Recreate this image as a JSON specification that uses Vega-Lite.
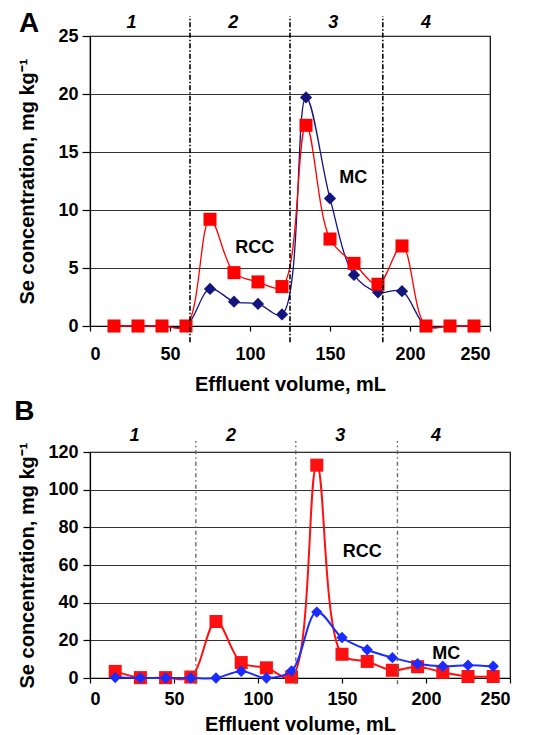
{
  "$schema": "https://vega.github.io/schema/vega-lite/v6.json",
  "background": "white",
  "padding": {"left": 13, "top": 9, "right": 10, "bottom": 0},
  "spacing": 2,
  "config": {
    "font": "Liberation Sans",
    "view": {"stroke": "black", "strokeWidth": 1.2},
    "axis": {
      "labelFont": "Liberation Sans", "labelFontWeight": "bold", "labelFontSize": 18, "labelColor": "black", "labelOverlap": false,
      "titleFont": "Liberation Sans", "titleFontWeight": "bold", "titleFontSize": 20, "titleColor": "black",
      "domainColor": "black", "tickColor": "black", "domainWidth": 1.2, "tickWidth": 1.2
    }
  },
  "datasets": {
    "a": [
      {"vol": 15, "series": "MC", "conc": 0}, {"vol": 30, "series": "MC", "conc": 0}, {"vol": 45, "series": "MC", "conc": 0}, {"vol": 60, "series": "MC", "conc": 0},
      {"vol": 75, "series": "MC", "conc": 3.2}, {"vol": 90, "series": "MC", "conc": 2.1}, {"vol": 105, "series": "MC", "conc": 1.9}, {"vol": 120, "series": "MC", "conc": 1.0},
      {"vol": 135, "series": "MC", "conc": 19.7}, {"vol": 150, "series": "MC", "conc": 11.0}, {"vol": 165, "series": "MC", "conc": 4.4}, {"vol": 180, "series": "MC", "conc": 2.9},
      {"vol": 195, "series": "MC", "conc": 3.0}, {"vol": 210, "series": "MC", "conc": 0}, {"vol": 225, "series": "MC", "conc": 0}, {"vol": 240, "series": "MC", "conc": 0},
      {"vol": 15, "series": "RCC", "conc": 0}, {"vol": 30, "series": "RCC", "conc": 0}, {"vol": 45, "series": "RCC", "conc": 0}, {"vol": 60, "series": "RCC", "conc": 0},
      {"vol": 75, "series": "RCC", "conc": 9.2}, {"vol": 90, "series": "RCC", "conc": 4.6}, {"vol": 105, "series": "RCC", "conc": 3.8}, {"vol": 120, "series": "RCC", "conc": 3.4},
      {"vol": 135, "series": "RCC", "conc": 17.3}, {"vol": 150, "series": "RCC", "conc": 7.5}, {"vol": 165, "series": "RCC", "conc": 5.4}, {"vol": 180, "series": "RCC", "conc": 3.6},
      {"vol": 195, "series": "RCC", "conc": 6.9}, {"vol": 210, "series": "RCC", "conc": 0}, {"vol": 225, "series": "RCC", "conc": 0}, {"vol": 240, "series": "RCC", "conc": 0}
    ],
    "b": [
      {"vol": 15, "series": "MC", "conc": 0.2}, {"vol": 30, "series": "MC", "conc": 0}, {"vol": 45, "series": "MC", "conc": 0}, {"vol": 60, "series": "MC", "conc": 0},
      {"vol": 75, "series": "MC", "conc": 0}, {"vol": 90, "series": "MC", "conc": 3.6}, {"vol": 105, "series": "MC", "conc": 0}, {"vol": 120, "series": "MC", "conc": 3.8},
      {"vol": 135, "series": "MC", "conc": 35}, {"vol": 150, "series": "MC", "conc": 21.5}, {"vol": 165, "series": "MC", "conc": 15}, {"vol": 180, "series": "MC", "conc": 10.8},
      {"vol": 195, "series": "MC", "conc": 7.6}, {"vol": 210, "series": "MC", "conc": 6.2}, {"vol": 225, "series": "MC", "conc": 6.8}, {"vol": 240, "series": "MC", "conc": 6.2},
      {"vol": 15, "series": "RCC", "conc": 3.5}, {"vol": 30, "series": "RCC", "conc": 0.2}, {"vol": 45, "series": "RCC", "conc": 0.2}, {"vol": 60, "series": "RCC", "conc": 0.5},
      {"vol": 75, "series": "RCC", "conc": 30}, {"vol": 90, "series": "RCC", "conc": 8.2}, {"vol": 105, "series": "RCC", "conc": 5.4}, {"vol": 120, "series": "RCC", "conc": 0.5},
      {"vol": 135, "series": "RCC", "conc": 113}, {"vol": 150, "series": "RCC", "conc": 12.6}, {"vol": 165, "series": "RCC", "conc": 8.8}, {"vol": 180, "series": "RCC", "conc": 4.1},
      {"vol": 195, "series": "RCC", "conc": 6.0}, {"vol": 210, "series": "RCC", "conc": 3.0}, {"vol": 225, "series": "RCC", "conc": 0.8}, {"vol": 240, "series": "RCC", "conc": 0.8}
    ],
    "dividersA": [{"vol": 62.5}, {"vol": 125}, {"vol": 183}],
    "dividersB": [{"vol": 63}, {"vol": 122.5}, {"vol": 183}],
    "regionsA": [{"vol": 26, "label": "1"}, {"vol": 89.5, "label": "2"}, {"vol": 152, "label": "3"}, {"vol": 210, "label": "4"}],
    "regionsB": [{"vol": 26.5, "label": "1"}, {"vol": 84, "label": "2"}, {"vol": 149, "label": "3"}, {"vol": 206, "label": "4"}],
    "notesA": [{"vol": 103, "conc": 6.7, "label": "RCC"}, {"vol": 164.5, "conc": 12.8, "label": "MC"}],
    "notesB": [{"vol": 162, "conc": 67, "label": "RCC"}, {"vol": 212, "conc": 12.8, "label": "MC"}],
    "panelA": [{"label": "A"}],
    "panelB": [{"label": "B"}]
  },
  "vconcat": [
    {
      "width": 400,
      "height": 290,
      "layer": [
        {
          "data": {"name": "a"},
          "transform": [{"filter": "datum.series === 'MC'"}],
          "mark": {"type": "line", "interpolate": "catmull-rom", "color": "#14147f", "strokeWidth": 1.3},
          "encoding": {
            "x": {"field": "vol", "type": "quantitative", "scale": {"domain": [0, 250], "nice": false},
                  "axis": {"values": [0, 50, 100, 150, 200, 250], "tickCount": 12, "grid": false, "tickSize": 5, "labelPadding": 14, "title": "Effluent volume, mL", "titlePadding": 11}},
            "y": {"field": "conc", "type": "quantitative", "scale": {"domain": [0, 25], "nice": false},
                  "axis": {"values": [0, 5, 10, 15, 20, 25], "tickCount": 12, "grid": true, "gridColor": "#333333", "gridWidth": 1.2, "tickSize": 8, "labelPadding": 4, "title": "Se concentration, mg kg⁻¹", "titlePadding": 20}}
          }
        },
        {
          "data": {"name": "a"},
          "transform": [{"filter": "datum.series === 'MC'"}],
          "mark": {"type": "point", "shape": "diamond", "filled": true, "size": 150, "color": "#14147f", "opacity": 1},
          "encoding": {"x": {"field": "vol", "type": "quantitative"}, "y": {"field": "conc", "type": "quantitative"}}
        },
        {
          "data": {"name": "a"},
          "transform": [{"filter": "datum.series === 'RCC'"}],
          "mark": {"type": "line", "interpolate": "catmull-rom", "color": "#ff0000", "strokeWidth": 1.3},
          "encoding": {"x": {"field": "vol", "type": "quantitative"}, "y": {"field": "conc", "type": "quantitative"}}
        },
        {
          "data": {"name": "a"},
          "transform": [{"filter": "datum.series === 'RCC'"}],
          "mark": {"type": "point", "shape": "square", "filled": true, "size": 170, "color": "#ff0000", "opacity": 1},
          "encoding": {"x": {"field": "vol", "type": "quantitative"}, "y": {"field": "conc", "type": "quantitative"}}
        },
        {
          "data": {"name": "dividersA"},
          "mark": {"type": "rule", "color": "black", "strokeWidth": 1.6, "strokeDash": [5, 2, 1.5, 2]},
          "encoding": {"x": {"field": "vol", "type": "quantitative"}, "y": {"datum": -1.4}, "y2": {"datum": 26.7}}
        },
        {
          "data": {"name": "regionsA"},
          "mark": {"type": "text", "font": "Liberation Sans", "fontSize": 18, "fontWeight": "bold", "fontStyle": "italic", "color": "black", "baseline": "middle"},
          "encoding": {"x": {"field": "vol", "type": "quantitative"}, "y": {"datum": 26.15}, "text": {"field": "label"}}
        },
        {
          "data": {"name": "notesA"},
          "mark": {"type": "text", "font": "Liberation Sans", "fontSize": 18, "fontWeight": "bold", "color": "black", "baseline": "middle"},
          "encoding": {"x": {"field": "vol", "type": "quantitative"}, "y": {"field": "conc", "type": "quantitative"}, "text": {"field": "label"}}
        },
        {
          "data": {"name": "panelA"},
          "mark": {"type": "text", "font": "Liberation Sans", "fontSize": 28, "fontWeight": "bold", "color": "black", "baseline": "middle"},
          "encoding": {"x": {"datum": -38}, "y": {"datum": 26.0}, "text": {"field": "label"}}
        }
      ]
    },
    {
      "width": 420,
      "height": 226,
      "layer": [
        {
          "data": {"name": "b"},
          "transform": [{"filter": "datum.series === 'RCC'"}],
          "mark": {"type": "line", "interpolate": "catmull-rom", "color": "#ff1010", "strokeWidth": 2},
          "encoding": {
            "x": {"field": "vol", "type": "quantitative", "scale": {"domain": [0, 250], "nice": false},
                  "axis": {"values": [0, 50, 100, 150, 200, 250], "tickCount": 12, "grid": false, "tickSize": 5, "labelPadding": 7, "title": "Effluent volume, mL", "titlePadding": 6}},
            "y": {"field": "conc", "type": "quantitative", "scale": {"domain": [0, 120], "nice": false},
                  "axis": {"values": [0, 20, 40, 60, 80, 100, 120], "tickCount": 12, "grid": true, "gridColor": "#333333", "gridWidth": 1.2, "tickSize": 7, "labelPadding": 5, "title": "Se concentration, mg kg⁻¹", "titlePadding": 10}}
          }
        },
        {
          "data": {"name": "b"},
          "transform": [{"filter": "datum.series === 'RCC'"}],
          "mark": {"type": "point", "shape": "square", "filled": true, "size": 170, "color": "#ff1010", "opacity": 1},
          "encoding": {"x": {"field": "vol", "type": "quantitative"}, "y": {"field": "conc", "type": "quantitative"}}
        },
        {
          "data": {"name": "b"},
          "transform": [{"filter": "datum.series === 'MC'"}],
          "mark": {"type": "line", "interpolate": "catmull-rom", "color": "#1a2cff", "strokeWidth": 2},
          "encoding": {"x": {"field": "vol", "type": "quantitative"}, "y": {"field": "conc", "type": "quantitative"}}
        },
        {
          "data": {"name": "b"},
          "transform": [{"filter": "datum.series === 'MC'"}],
          "mark": {"type": "point", "shape": "diamond", "filled": true, "size": 130, "color": "#1a2cff", "opacity": 1},
          "encoding": {"x": {"field": "vol", "type": "quantitative"}, "y": {"field": "conc", "type": "quantitative"}}
        },
        {
          "data": {"name": "dividersB"},
          "mark": {"type": "rule", "color": "#666666", "strokeWidth": 1.4, "strokeDash": [4, 3, 1.5, 3]},
          "encoding": {"x": {"field": "vol", "type": "quantitative"}, "y": {"datum": -3.3}, "y2": {"datum": 125.8}}
        },
        {
          "data": {"name": "regionsB"},
          "mark": {"type": "text", "font": "Liberation Sans", "fontSize": 18, "fontWeight": "bold", "fontStyle": "italic", "color": "black", "baseline": "middle"},
          "encoding": {"x": {"field": "vol", "type": "quantitative"}, "y": {"datum": 128.7}, "text": {"field": "label"}}
        },
        {
          "data": {"name": "notesB"},
          "mark": {"type": "text", "font": "Liberation Sans", "fontSize": 18, "fontWeight": "bold", "color": "black", "baseline": "middle"},
          "encoding": {"x": {"field": "vol", "type": "quantitative"}, "y": {"field": "conc", "type": "quantitative"}, "text": {"field": "label"}}
        },
        {
          "data": {"name": "panelB"},
          "mark": {"type": "text", "font": "Liberation Sans", "fontSize": 28, "fontWeight": "bold", "color": "black", "baseline": "middle"},
          "encoding": {"x": {"datum": -39}, "y": {"datum": 141}, "text": {"field": "label"}}
        }
      ]
    }
  ]
}
